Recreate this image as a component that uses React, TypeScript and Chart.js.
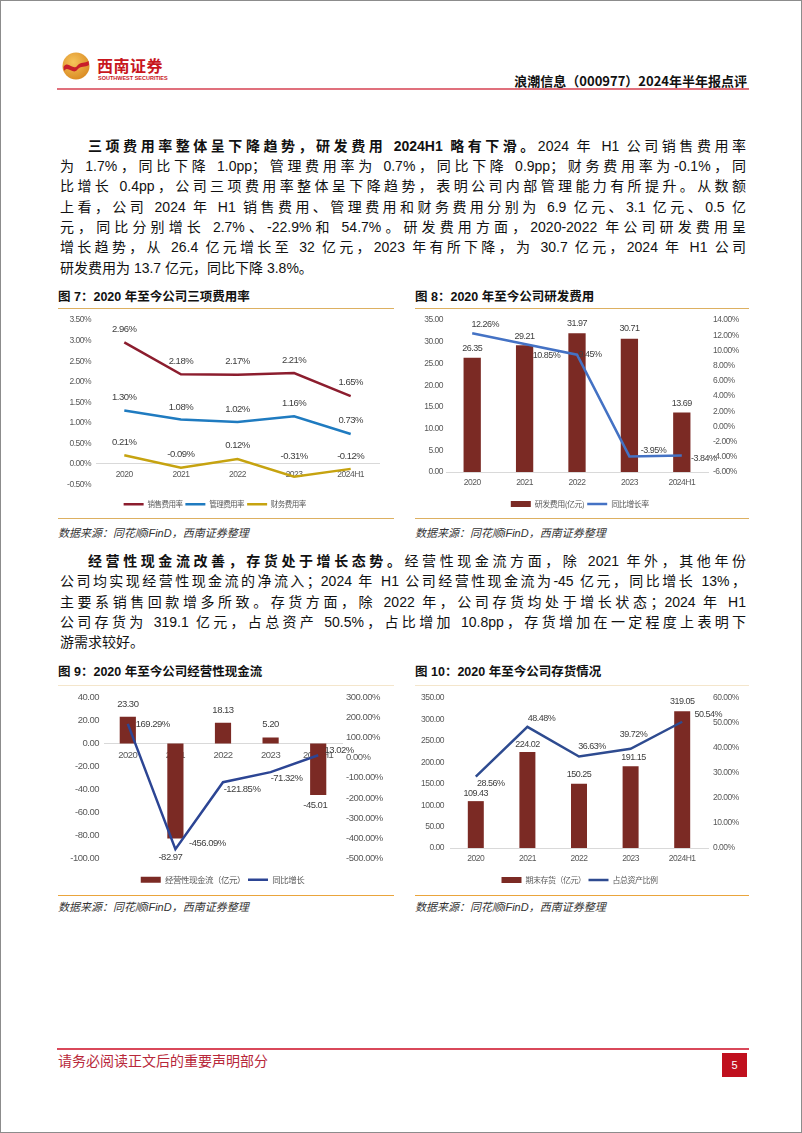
import React, { useEffect, useRef } from 'react';
import { Chart, registerables } from 'chart.js';

Chart.register(...registerables);

// ---------------- data ----------------
const years = ['2020', '2021', '2022', '2023', '2024H1'];

const salesRate = [2.96, 2.18, 2.17, 2.21, 1.65];
const mgmtRate = [1.3, 1.08, 1.02, 1.16, 0.73];
const finRate = [0.21, -0.09, 0.12, -0.31, -0.12];

const rdExpense = [26.35, 29.21, 31.97, 30.71, 13.69];
const rdYoY = [12.26, 10.85, 9.45, -3.95, -3.84];

const opCashFlow = [23.3, -82.97, 18.13, 5.2, -45.01];
const opCashYoY = [169.29, -456.09, -121.85, -71.32, 13.02];

const inventory = [109.43, 224.02, 150.25, 191.15, 319.05];
const inventoryShare = [28.56, 48.48, 36.63, 39.72, 50.54];

// ---------------- label offsets (styling) ----------------
const offSales = [[0, -13], [0, -13], [0, -13], [0, -13], [0, -14]];
const offMgmt = [[0, -13], [0, -12], [0, -13], [0, -13], [0, -14]];
const offFin = [[0, -13], [0, -13], [0, -14], [0, -20], [0, -13]];
const offRdBar = [[0, -9], [0, -9], [0, -10], [0, -10], [0, -9]];
const offRdLine = [[13, -9], [22, 11], [13, 0], [24, -6], [22, 3]];
const offCashBar = [[0, -12], [-5, 19], [0, -12], [0, -13], [-3, 10]];
const offCashLine = [[25, 0], [32, -6], [19, 7], [16, 6], [21, -5]];
const offInvBar = [[0, -8], [0, -8], [0, -9], [3, -9], [0, -10]];
const offInvLine = [[15, 7], [14, -8], [13, -10], [3, -14], [26, -7]];

// ---------------- styles ----------------
const TICK_FONT = '"Liberation Sans", Arial, sans-serif';
const CJK_FONT = '"Noto Sans CJK SC", "Noto Sans", sans-serif';
const BODY_FONT = '"Liberation Sans", Arial, "Noto Sans CJK SC", sans-serif';
const TICK_COLOR = '#595959';
const LABEL_COLOR = '#404040';
const BAR_COLOR = '#7B2A24';
const GOLD = '#DDB061';
const TICK_SIZE = 8.5;

const fmt2 = (v: number) => v.toFixed(2);
const pct2 = (v: number) => v.toFixed(2) + '%';

const narrowText = {
  id: 'narrowText',
  beforeDraw(chart: any) {
    chart.ctx.letterSpacing = '-0.5px';
  },
};

const valueLabels = {
  id: 'valueLabels',
  afterDatasetsDraw(chart: any) {
    const ctx = chart.ctx;
    ctx.save();
    chart.data.datasets.forEach((ds: any, i: number) => {
      const meta = chart.getDatasetMeta(i);
      if (!ds.labelOffsets) return;
      ctx.font = `${ds.labelSize || 9}px ${TICK_FONT}`;
      ctx.fillStyle = LABEL_COLOR;
      ctx.textAlign = 'center';
      ctx.textBaseline = 'middle';
      meta.data.forEach((el: any, j: number) => {
        const off = ds.labelOffsets[j] || [0, 0];
        ctx.fillText(ds.labelFormat(ds.data[j]), el.x + off[0], el.y + off[1]);
      });
    });
    ctx.restore();
  },
};

function legendOpts(size: number, padding: number, titleGap: number, sortReverse = false) {
  const labels: any = {
    usePointStyle: true,
    pointStyleWidth: 20,
    boxHeight: 6,
    padding,
    color: TICK_COLOR,
    font: { size, family: CJK_FONT },
    generateLabels: (chart: any) =>
      chart.data.datasets.map((ds: any, i: number) => {
        const isBar = (ds.type || chart.config.type) === 'bar';
        return {
          text: ds.label,
          fillStyle: isBar ? ds.backgroundColor : 'rgba(0,0,0,0)',
          strokeStyle: isBar ? ds.backgroundColor : ds.borderColor,
          lineWidth: isBar ? 0 : 2.5,
          pointStyle: isBar ? 'rect' : 'line',
          fontColor: TICK_COLOR,
          hidden: false,
          datasetIndex: i,
        };
      }),
  };
  if (sortReverse) labels.sort = (a: any, b: any) => b.datasetIndex - a.datasetIndex;
  return {
    position: 'bottom' as const,
    labels,
    title: titleGap > 0
      ? { display: true, text: '', font: { size: 1, lineHeight: 1 }, padding: { top: 0, bottom: titleGap } }
      : { display: false },
  };
}

function tickFont(size: number) {
  return { size, family: TICK_FONT };
}

function ChartCanvas({ left, top, width, height, config }: any) {
  const ref = useRef<HTMLCanvasElement>(null);
  useEffect(() => {
    const chart = new Chart(ref.current as HTMLCanvasElement, config);
    return () => chart.destroy();
  }, []);
  return (
    <canvas
      ref={ref}
      width={width}
      height={height}
      style={{ position: 'absolute', left, top, width, height }}
    />
  );
}

// ---------------- chart configs ----------------
const baseOpts = {
  animation: false,
  responsive: false,
  devicePixelRatio: 1,
  events: [],
};

const hiddenGrid = { display: false, drawTicks: false };
const axisLine = { display: true, color: '#D9D9D9' };

const config7: any = {
  type: 'line',
  data: {
    labels: years,
    datasets: [
      { label: '销售费用率', data: salesRate, borderColor: '#8C1D2E', backgroundColor: '#8C1D2E', borderWidth: 2.5, pointRadius: 0, labelOffsets: offSales, labelFormat: pct2, labelSize: 9.5 },
      { label: '管理费用率', data: mgmtRate, borderColor: '#1F7BC0', backgroundColor: '#1F7BC0', borderWidth: 2.5, pointRadius: 0, labelOffsets: offMgmt, labelFormat: pct2, labelSize: 9.5 },
      { label: '财务费用率', data: finRate, borderColor: '#C6A310', backgroundColor: '#C6A310', borderWidth: 2.5, pointRadius: 0, labelOffsets: offFin, labelFormat: pct2, labelSize: 9.5 },
    ],
  },
  options: {
    ...baseOpts,
    layout: { padding: { left: 0, right: 15, top: 9, bottom: 0 } },
    plugins: { legend: legendOpts(7.5, 3, 12), tooltip: { enabled: false } },
    scales: {
      x: {
        position: { y: 0 },
        offset: true,
        grid: hiddenGrid,
        border: axisLine,
        ticks: { font: tickFont(TICK_SIZE), color: TICK_COLOR, padding: 6, autoSkip: false, maxRotation: 0 },
      },
      y: {
        min: -0.5,
        max: 3.5,
        grid: hiddenGrid,
        border: { display: false },
        ticks: { stepSize: 0.5, font: tickFont(TICK_SIZE), color: TICK_COLOR, padding: 5, callback: (v: number) => pct2(v) },
        afterFit: (s: any) => { s.width = 38; },
      },
    },
  },
  plugins: [narrowText, valueLabels],
};

const config8: any = {
  type: 'bar',
  data: {
    labels: years,
    datasets: [
      { type: 'line', label: '同比增长率', data: rdYoY, yAxisID: 'y1', borderColor: '#4472C4', backgroundColor: '#4472C4', borderWidth: 2.5, pointRadius: 0, order: 0, labelOffsets: offRdLine, labelFormat: pct2, labelSize: 9 },
      { type: 'bar', label: '研发费用(亿元)', data: rdExpense, yAxisID: 'y', backgroundColor: BAR_COLOR, categoryPercentage: 1, barPercentage: 0.33, order: 1, labelOffsets: offRdBar, labelFormat: fmt2, labelSize: 9 },
    ],
  },
  options: {
    ...baseOpts,
    layout: { padding: { left: 0, right: 0, top: 9, bottom: 0 } },
    plugins: { legend: legendOpts(8, 3, 0, true), tooltip: { enabled: false } },
    scales: {
      x: {
        grid: hiddenGrid,
        border: axisLine,
        ticks: { font: tickFont(TICK_SIZE), color: TICK_COLOR, padding: 6, autoSkip: false, maxRotation: 0 },
        afterFit: (s: any) => { s.height = 25; },
      },
      y: {
        position: 'left',
        min: 0,
        max: 35,
        grid: hiddenGrid,
        border: { display: false },
        ticks: { stepSize: 5, font: tickFont(TICK_SIZE), color: TICK_COLOR, padding: 3, callback: (v: number) => fmt2(v) },
        afterFit: (s: any) => { s.width = 31; },
      },
      y1: {
        position: 'right',
        min: -6,
        max: 14,
        grid: hiddenGrid,
        border: { display: false },
        ticks: { stepSize: 2, font: tickFont(TICK_SIZE), color: TICK_COLOR, padding: 5, callback: (v: number) => pct2(v) },
        afterFit: (s: any) => { s.width = 43; },
      },
    },
  },
  plugins: [narrowText, valueLabels],
};

const config9: any = {
  type: 'bar',
  data: {
    labels: years,
    datasets: [
      { type: 'bar', label: '经营性现金流（亿元）', data: opCashFlow, yAxisID: 'y', backgroundColor: BAR_COLOR, categoryPercentage: 1, barPercentage: 0.34, order: 1, labelOffsets: offCashBar, labelFormat: fmt2, labelSize: 9.5 },
      { type: 'line', label: '同比增长', data: opCashYoY, yAxisID: 'y1', borderColor: '#2C4594', backgroundColor: '#2C4594', borderWidth: 2.5, pointRadius: 0, order: 0, labelOffsets: offCashLine, labelFormat: pct2, labelSize: 9.5 },
    ],
  },
  options: {
    ...baseOpts,
    layout: { padding: { left: 0, right: 0, top: 10, bottom: 0 } },
    plugins: { legend: legendOpts(8.5, 3, 13.5), tooltip: { enabled: false } },
    scales: {
      x: {
        position: { y: 0 },
        grid: hiddenGrid,
        border: axisLine,
        ticks: { font: tickFont(9.5), color: TICK_COLOR, padding: 6, autoSkip: false, maxRotation: 0 },
      },
      y: {
        position: 'left',
        min: -100,
        max: 40,
        grid: hiddenGrid,
        border: { display: false },
        ticks: { stepSize: 20, font: tickFont(9.5), color: TICK_COLOR, padding: 5, callback: (v: number) => fmt2(v) },
        afterFit: (s: any) => { s.width = 46; },
      },
      y1: {
        position: 'right',
        min: -500,
        max: 300,
        grid: hiddenGrid,
        border: { display: false },
        ticks: { stepSize: 100, font: tickFont(9.5), color: TICK_COLOR, padding: 4, callback: (v: number) => pct2(v) },
        afterFit: (s: any) => { s.width = 52; },
      },
    },
  },
  plugins: [narrowText, valueLabels],
};

const config10: any = {
  type: 'bar',
  data: {
    labels: years,
    datasets: [
      { type: 'bar', label: '期末存货（亿元）', data: inventory, yAxisID: 'y', backgroundColor: BAR_COLOR, categoryPercentage: 1, barPercentage: 0.31, order: 1, labelOffsets: offInvBar, labelFormat: fmt2, labelSize: 9 },
      { type: 'line', label: '占总资产比例', data: inventoryShare, yAxisID: 'y1', borderColor: '#2E4B90', backgroundColor: '#2E4B90', borderWidth: 2.5, pointRadius: 0, order: 0, labelOffsets: offInvLine, labelFormat: pct2, labelSize: 9 },
    ],
  },
  options: {
    ...baseOpts,
    layout: { padding: { left: 0, right: 0, top: 8, bottom: 0 } },
    plugins: { legend: legendOpts(8, 3, 0), tooltip: { enabled: false } },
    scales: {
      x: {
        grid: hiddenGrid,
        border: axisLine,
        ticks: { font: tickFont(TICK_SIZE), color: TICK_COLOR, padding: 6, autoSkip: false, maxRotation: 0 },
        afterFit: (s: any) => { s.height = 25; },
      },
      y: {
        position: 'left',
        min: 0,
        max: 350,
        grid: hiddenGrid,
        border: { display: false },
        ticks: { stepSize: 50, font: tickFont(TICK_SIZE), color: TICK_COLOR, padding: 6, callback: (v: number) => fmt2(v) },
        afterFit: (s: any) => { s.width = 35; },
      },
      y1: {
        position: 'right',
        min: 0,
        max: 60,
        grid: hiddenGrid,
        border: { display: false },
        ticks: { stepSize: 10, font: tickFont(TICK_SIZE), color: TICK_COLOR, padding: 5, callback: (v: number) => pct2(v) },
        afterFit: (s: any) => { s.width = 43; },
      },
    },
  },
  plugins: [narrowText, valueLabels],
};

// ---------------- text ----------------
const LINE_H = 20.3;
const TEXT_LEFT = 59;
const TEXT_W = 686;

function TextLine({ y, indent, last, children }: any) {
  return (
    <div
      style={{
        position: 'absolute',
        left: TEXT_LEFT,
        top: y - LINE_H / 2,
        width: TEXT_W,
        height: LINE_H,
        lineHeight: `${LINE_H}px`,
        fontSize: 14,
        fontFamily: BODY_FONT,
        color: '#111',
        textAlign: last ? 'left' : 'justify',
        textAlignLast: last ? 'left' : 'justify',
        textIndent: indent ? 28 : 0,
        whiteSpace: 'normal',
        overflow: 'visible',
      } as any}
    >
      {children}
    </div>
  );
}

const bold = (t: string) => <b style={{ fontWeight: 700 }}>{t}</b>;

function FigTitle({ x, y, text }: any) {
  return (
    <div style={{ position: 'absolute', left: x, top: y - 9, height: 18, lineHeight: '18px', fontSize: 12.5, fontWeight: 700, fontFamily: BODY_FONT, color: '#111', whiteSpace: 'nowrap' }}>
      {text}
    </div>
  );
}

function Rule({ x, y, w, color, h = 1 }: any) {
  return <div style={{ position: 'absolute', left: x, top: y, width: w, height: h, background: color }} />;
}

function Source({ x, y }: any) {
  return (
    <div style={{ position: 'absolute', left: x, top: y - 8, height: 16, lineHeight: '16px', fontSize: 11, fontStyle: 'italic', fontFamily: BODY_FONT, color: '#333', whiteSpace: 'nowrap' }}>
      数据来源：同花顺iFinD，西南证券整理
    </div>
  );
}

export default function App() {
  useEffect(() => {
    document.body.style.margin = '0';
  }, []);
  return (
    <div style={{ position: 'absolute', left: 0, top: 0, width: 802, height: 1133, background: '#fff', boxSizing: 'border-box', border: '1px solid #8c8c8c', overflow: 'hidden' }}>
      {/* header */}
      <svg style={{ position: 'absolute', left: 61, top: 51 }} width={28} height={28} viewBox="0 0 28 28">
        <defs>
          <radialGradient id="lg" cx="0.4" cy="0.35" r="0.7">
            <stop offset="0" stopColor="#F6C35A" />
            <stop offset="1" stopColor="#D98A22" />
          </radialGradient>
        </defs>
        <circle cx="14" cy="14" r="13.5" fill="url(#lg)" />
        <path d="M1.5,15 C6,8 11,19 15,14 C19,9 23,12 26.5,9 L27,13 C23,16 19,13 15,18 C11,23 6,13 2,19 Z" fill="#C81E2A" />
      </svg>
      <div style={{ position: 'absolute', left: 96, top: 54, fontSize: 16, fontWeight: 700, color: '#C8161D', fontFamily: CJK_FONT, letterSpacing: 0.5, lineHeight: '20px', whiteSpace: 'nowrap' }}>西南证券</div>
      <div style={{ position: 'absolute', left: 97, top: 74, fontSize: 5.5, fontWeight: 700, color: '#C8161D', fontFamily: '"Liberation Sans", Arial, sans-serif', lineHeight: '7px', whiteSpace: 'nowrap' }}>SOUTHWEST SECURITIES</div>
      <div style={{ position: 'absolute', right: 802 - 748, top: 71, fontSize: 13, fontWeight: 700, color: '#111', fontFamily: CJK_FONT, lineHeight: '18px', whiteSpace: 'nowrap' }}>
        浪潮信息（000977）2024年半年报点评
      </div>
      <Rule x={56} y={87} w={692} h={2} color="#E0707C" />

      {/* paragraph 1 */}
      <TextLine y={145} indent>{bold('三项费用率整体呈下降趋势，研发费用 2024H1 略有下滑。')}2024 年 H1 公司销售费用率</TextLine>
      <TextLine y={165.3}>为 1.7%，同比下降 1.0pp；管理费用率为 0.7%，同比下降 0.9pp；财务费用率为-0.1%，同</TextLine>
      <TextLine y={185.6}>比增长 0.4pp，公司三项费用率整体呈下降趋势，表明公司内部管理能力有所提升。从数额</TextLine>
      <TextLine y={205.9}>上看，公司 2024 年 H1 销售费用、管理费用和财务费用分别为 6.9 亿元、3.1 亿元、0.5 亿</TextLine>
      <TextLine y={226.2}>元，同比分别增长 2.7%、-22.9%和 54.7%。研发费用方面，2020-2022 年公司研发费用呈</TextLine>
      <TextLine y={246.5}>增长趋势，从 26.4 亿元增长至 32 亿元，2023 年有所下降，为 30.7 亿元，2024 年 H1 公司</TextLine>
      <TextLine y={266.8} last>研发费用为 13.7 亿元，同比下降 3.8%。</TextLine>

      {/* figures 7 & 8 */}
      <FigTitle x={57} y={296} text="图 7：2020 年至今公司三项费用率" />
      <FigTitle x={414} y={296} text="图 8：2020 年至今公司研发费用" />
      <Rule x={57} y={307} w={336} color={GOLD} />
      <Rule x={414} y={307} w={334} color={GOLD} />
      <ChartCanvas left={57} top={309} width={336} height={208} config={config7} />
      <ChartCanvas left={414} top={309} width={336} height={208} config={config8} />
      <Rule x={57} y={517} w={336} color={GOLD} />
      <Rule x={414} y={517} w={334} color={GOLD} />
      <Source x={57} y={532} />
      <Source x={414} y={532} />

      {/* paragraph 2 */}
      <TextLine y={560} indent>{bold('经营性现金流改善，存货处于增长态势。')}经营性现金流方面，除 2021 年外，其他年份</TextLine>
      <TextLine y={580.4}>公司均实现经营性现金流的净流入；2024 年 H1 公司经营性现金流为-45 亿元，同比增长 13%，</TextLine>
      <TextLine y={600.8}>主要系销售回款增多所致。存货方面，除 2022 年，公司存货均处于增长状态；2024 年 H1</TextLine>
      <TextLine y={621.2}>公司存货为 319.1 亿元，占总资产 50.5%，占比增加 10.8pp，存货增加在一定程度上表明下</TextLine>
      <TextLine y={641.6} last>游需求较好。</TextLine>

      {/* figures 9 & 10 */}
      <FigTitle x={57} y={671} text="图 9：2020 年至今公司经营性现金流" />
      <FigTitle x={414} y={671} text="图 10：2020 年至今公司存货情况" />
      <Rule x={57} y={684} w={336} color="#F4E6CC" />
      <Rule x={414} y={684} w={334} color="#F4E6CC" />
      <ChartCanvas left={57} top={686} width={336} height={207} config={config9} />
      <ChartCanvas left={414} top={686} width={336} height={207} config={config10} />
      <Rule x={57} y={894} w={336} color="#EAA53C" />
      <Rule x={414} y={894} w={334} color="#EAA53C" />
      <Source x={57} y={906} />
      <Source x={414} y={906} />

      {/* footer */}
      <Rule x={56} y={1047} w={692} h={2} color="#D9485A" />
      <div style={{ position: 'absolute', left: 57, top: 1050, fontSize: 14, color: '#B8283A', fontFamily: CJK_FONT, lineHeight: '18px', whiteSpace: 'nowrap' }}>
        请务必阅读正文后的重要声明部分
      </div>
      <div style={{ position: 'absolute', left: 721, top: 1052, width: 25, height: 24, background: '#C0101E', color: '#fff', fontSize: 11, fontFamily: '"Liberation Sans", Arial, sans-serif', textAlign: 'center', lineHeight: '24px' }}>
        5
      </div>
    </div>
  );
}
